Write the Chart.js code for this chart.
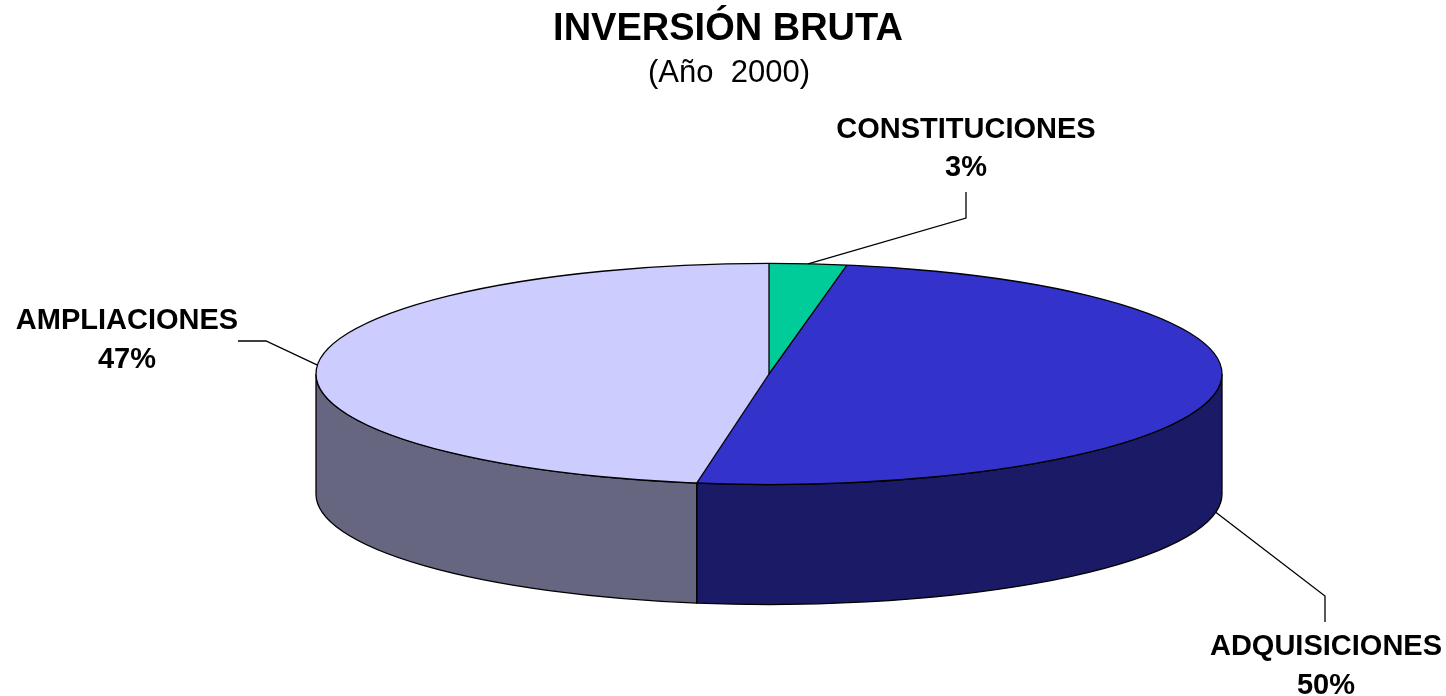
<!DOCTYPE html>
<html>
<head>
<meta charset="utf-8">
<script src="https://cdn.jsdelivr.net/npm/chart.js@4.4.1/dist/chart.umd.min.js"></script>
<style>
body { margin: 0; background: #fff; }
#wrap { width: 1446px; height: 696px; position: relative; }
</style>
</head>
<body>
<div id="wrap"><canvas id="myChart"></canvas></div>
<script>
const labels = ['CONSTITUCIONES', 'ADQUISICIONES', 'AMPLIACIONES']
const values = [2.75, 49.8, 47.45]
const pctText = ['3%', '50%', '47%']
const topColors = ['#00CC99', '#3333CC', '#CCCCFF']
const sideColors = ['#006650', '#1A1A66', '#666680']

const titleText = 'INVERSIÓN BRUTA'
const subtitleText = '(Año  2000)'

const tilt = 0.244   // vertical squash of the pie top
const depth = 120    // height of the pie side
const fontFam = '"Liberation Sans", Arial, sans-serif'

// label placement: leader elbow, leader end, text centre
const labelLayout = [
  { elbow: [966, 218], end: [966, 192], x: 966, y1: 130, y2: 168 },
  { elbow: [1325, 596], end: [1325, 622], x: 1326, y1: 647, y2: 686 },
  { elbow: [266, 341], end: [238, 341], x: 127, y1: 321, y2: 360 }
]

const pie3d = {
  id: 'pie3d',
  beforeDatasetsDraw(chart) {
    const ctx = chart.ctx
    const arcs = chart.getDatasetMeta(0).data
    const cx = arcs[0].x, cy = arcs[0].y
    const rx = arcs[0].outerRadius, ry = rx * tilt
    // side walls, only the front half shows
    ctx.save()
    ctx.lineWidth = 1.3
    ctx.strokeStyle = '#000'
    arcs.forEach((arc, i) => {
      const a = Math.max(arc.startAngle, 0)
      const b = Math.min(arc.endAngle, Math.PI)
      if (a >= b) return
      ctx.beginPath()
      ctx.ellipse(cx, cy, rx, ry, 0, a, b, false)
      ctx.ellipse(cx, cy + depth, rx, ry, 0, b, a, true)
      ctx.closePath()
      ctx.fillStyle = sideColors[i]
      ctx.fill()
      ctx.stroke()
    })
    ctx.restore()
    // squash the library's pie into an ellipse
    ctx.save()
    ctx.translate(cx, cy)
    ctx.scale(1, tilt)
    ctx.translate(-cx, -cy)
  },
  afterDatasetsDraw(chart) {
    const ctx = chart.ctx
    ctx.restore()
    const arcs = chart.getDatasetMeta(0).data
    const cx = arcs[0].x, cy = arcs[0].y
    const rx = arcs[0].outerRadius, ry = rx * tilt
    ctx.save()
    ctx.lineWidth = 1.3
    ctx.strokeStyle = '#000'
    ctx.beginPath()
    ctx.ellipse(cx, cy, rx, ry, 0, 0, Math.PI * 2)
    ctx.stroke()
    arcs.forEach(arc => {
      ctx.beginPath()
      ctx.moveTo(cx, cy)
      ctx.lineTo(cx + rx * Math.cos(arc.startAngle), cy + ry * Math.sin(arc.startAngle))
      ctx.stroke()
    })

    // leader lines + labels
    ctx.fillStyle = '#000'
    ctx.textAlign = 'center'
    ctx.textBaseline = 'middle'
    ctx.font = 'bold 29px ' + fontFam
    arcs.forEach((arc, i) => {
      const m = (arc.startAngle + arc.endAngle) / 2
      const ax = cx + rx * Math.cos(m)
      const ay = cy + ry * Math.sin(m) + (Math.sin(m) > 0 ? depth : 0)
      const lay = labelLayout[i]
      ctx.beginPath()
      ctx.moveTo(ax, ay)
      ctx.lineTo(lay.elbow[0], lay.elbow[1])
      ctx.lineTo(lay.end[0], lay.end[1])
      ctx.stroke()
      ctx.fillText(labels[i], lay.x, lay.y1)
      ctx.fillText(pctText[i], lay.x, lay.y2)
    })

    // titles
    ctx.font = 'bold 38px ' + fontFam
    ctx.fillText(titleText, 728, 30)
    ctx.font = '31px ' + fontFam
    ctx.fillText(subtitleText, 729, 73)
    ctx.restore()
  }
}

const ctx = document.getElementById('myChart').getContext('2d')
const chart = new Chart(ctx, {
  type: 'pie',
  data: {
    labels: labels,
    datasets: [{
      data: values,
      backgroundColor: topColors,
      borderWidth: 0,
      radius: 453
    }]
  },
  options: {
    responsive: true,
    maintainAspectRatio: false,
    animation: false,
    events: [],
    layout: { padding: { left: 92, top: 52, right: 0, bottom: 0 } },
    plugins: {
      legend: { display: false },
      tooltip: { enabled: false },
      title: { display: false }
    }
  },
  plugins: [pie3d]
})
</script>
</body>
</html>
